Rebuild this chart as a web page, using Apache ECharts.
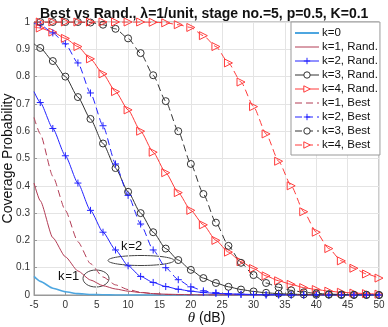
<!DOCTYPE html>
<html>
<head>
<meta charset="utf-8">
<script src="https://cdn.jsdelivr.net/npm/echarts@6/dist/echarts.min.js"></script>
<style>
  html, body { margin: 0; padding: 0; background: #fff; }
  #chart { width: 388px; height: 327px; }
</style>
</head>
<body>
<div id="chart"></div>
<script>
// theta in dB (first point has no marker)
var thetaDb = [-5,-4,-2,0,2,4,6,8,10,12,14,16,18,20,22,24,26,28,30,32,34,36,38,40,42,44,46,48,50];

var k0      = [0.068,0.05,0.025,0.012,0.005,0.002,0.001,0,0,0,0,0,0,0,0,0,0,0,0,0,0,0,0,0,0,0,0,0,0];
var k1Rand  = [0.41,0.345,0.21,0.14,0.088,0.055,0.034,0.022,0.014,0.009,0.005,0.003,0.002,0.001,0,0,0,0,0,0,0,0,0,0,0,0,0,0,0];
var k2Rand  = [0.745,0.705,0.61,0.51,0.41,0.31,0.23,0.165,0.107,0.068,0.046,0.031,0.021,0.014,0.009,0.006,0.004,0.003,0.002,0.001,0.001,0,0,0,0,0,0,0,0];
var k3Rand  = [0.92,0.905,0.857,0.80,0.725,0.645,0.555,0.465,0.378,0.30,0.23,0.17,0.128,0.092,0.062,0.044,0.03,0.02,0.013,0.008,0.005,0.003,0.002,0.001,0.001,0,0,0,0];
var k4Rand  = [0.982,0.978,0.963,0.94,0.91,0.865,0.81,0.745,0.678,0.60,0.523,0.448,0.375,0.31,0.257,0.20,0.157,0.122,0.097,0.07,0.052,0.039,0.027,0.02,0.014,0.01,0.007,0.005,0.003];
var k1Best  = [0.65,0.59,0.435,0.31,0.195,0.115,0.066,0.037,0.02,0.01,0.005,0.002,0.001,0,0,0,0,0,0,0,0,0,0,0,0,0,0,0,0];
var k2Best  = [0.995,0.99,0.96,0.92,0.85,0.74,0.62,0.48,0.365,0.26,0.165,0.10,0.056,0.03,0.015,0.008,0.004,0.002,0.001,0,0,0,0,0,0,0,0,0,0];
var k3Best  = [1,1,1,1,1,0.998,0.99,0.975,0.94,0.886,0.805,0.71,0.60,0.48,0.37,0.265,0.18,0.118,0.073,0.044,0.028,0.017,0.01,0.006,0.003,0.002,0.001,0.001,0];
var k4Best  = [1,1,1,1,1,1,1,1,1,1,0.999,0.997,0.99,0.98,0.95,0.91,0.85,0.78,0.69,0.59,0.49,0.40,0.305,0.23,0.17,0.125,0.098,0.077,0.062];

var plusSym = 'path://M5,0L5,10M0,5L10,5';
var triSym  = 'path://M0,0L9,5L0,10Z';

function pts(vals) {
    return thetaDb.map(function (x, i) {
        if (i === 0) return { value: [x, vals[i]], symbol: 'none' };
        return [x, vals[i]];
    });
}

function mk(name, vals, color, dashed, symbol, size, width) {
    var hasSym = !!symbol;
    return {
        name: name,
        type: 'line',
        data: pts(vals),
        symbol: symbol || 'circle',
        symbolSize: size || 6,
        showSymbol: hasSym,
        smooth: 0.2,
        smoothMonotone: 'x',
        lineStyle: { color: color, width: width || 1, type: dashed ? [7, 4] : 'solid' },
        itemStyle: { color: 'rgba(255,255,255,0)', borderColor: hasSym ? color : 'rgba(255,255,255,0)', borderWidth: 1 },
        emphasis: { disabled: true }
    };
}

// legend entry: hollow marker like the plot
function leg(name, color, hasSym, lineW) {
    return {
        name: name,
        lineStyle: { width: lineW || 1 },
        itemStyle: { color: hasSym ? '#fff' : 'rgba(255,255,255,0)', borderColor: hasSym ? color : 'rgba(255,255,255,0)', borderWidth: 1 }
    };
}

var cK0 = '#4DA6E0', cK1 = '#B23C55', cK2 = '#2222FF', cK3 = '#333333', cK4 = '#FF3B3B';

var chart = echarts.init(document.getElementById('chart'));
chart.setOption({
    animation: false,
    title: {
        text: 'Best vs Rand., λ=1/unit, stage no.=5, p=0.5, K=0.1',
        left: 35, top: 2,
        textStyle: { fontSize: 14, fontWeight: 'bold', color: '#111', fontFamily: 'Liberation Sans, Arial' }
    },
    grid: { left: 34, top: 22, width: 345, height: 273, containLabel: false, outerBoundsMode: 'none',
        show: true, borderColor: '#999', borderWidth: 1 },
    legend: {
        orient: 'vertical', left: 291, top: 22,
        backgroundColor: '#fff', borderColor: '#999', borderWidth: 1,
        padding: [4, 2, 3, 3],
        itemWidth: 24, itemHeight: 8, itemGap: 0,
        textStyle: { fontSize: 11.5, lineHeight: 14, color: '#111', fontFamily: 'Liberation Sans, Arial', padding: [0, 0, 0, -2] },
        data: [
            leg('k=0', cK0, false, 2),
            leg('k=1, Rand.', cK1, false),
            leg('k=2, Rand.', cK2, true),
            leg('k=3, Rand.', cK3, true),
            leg('k=4, Rand.', cK4, true),
            leg('k=1, Best', cK1, false),
            leg('k=2, Best', cK2, true),
            leg('k=3, Best', cK3, true),
            leg('k=4, Best', cK4, true)
        ]
    },
    xAxis: {
        type: 'value', min: -5, max: 50, interval: 5,
        name: '{i|θ} (dB)', nameLocation: 'middle', nameGap: 16, nameMoveOverlap: false,
        nameTextStyle: { fontSize: 14, color: '#111', fontFamily: 'Liberation Sans, Arial',
            rich: { i: { fontStyle: 'italic', fontSize: 15, fontFamily: 'Liberation Serif, serif', color: '#111' } } },
        axisLine: { show: true, onZero: false, lineStyle: { color: '#999' } },
        axisTick: { inside: true, length: 3, lineStyle: { color: '#999' } },
        axisLabel: { fontSize: 10, color: '#333', margin: 5 },
        splitLine: { show: true, lineStyle: { color: '#e4e4e4' } }
    },
    yAxis: {
        type: 'value', min: 0, max: 1, interval: 0.1,
        name: 'Coverage Probability', nameLocation: 'middle', nameGap: 19, nameMoveOverlap: false,
        nameTextStyle: { fontSize: 14, color: '#111', fontFamily: 'Liberation Sans, Arial' },
        axisLine: { show: true, onZero: false, lineStyle: { color: '#999' } },
        axisTick: { show: true, inside: true, length: 3, lineStyle: { color: '#999' } },
        axisLabel: { fontSize: 10, color: '#333', margin: 4,
            formatter: function (v) { return String(Math.round(v * 10) / 10); } },
        splitLine: { show: true, lineStyle: { color: '#e4e4e4' } }
    },
    graphic: [
        { type: 'text', left: 58, top: 270, style: { text: 'k=1', fontSize: 13, fill: '#111', fontFamily: 'Liberation Sans, Arial' } },
        { type: 'ellipse', shape: { cx: 96, cy: 278.5, rx: 13, ry: 8.5 }, style: { fill: 'none', stroke: '#444', lineWidth: 1 } },
        { type: 'text', left: 121, top: 240, style: { text: 'k=2', fontSize: 13, fill: '#111', fontFamily: 'Liberation Sans, Arial' } },
        { type: 'ellipse', shape: { cx: 141, cy: 260.5, rx: 33, ry: 5 }, style: { fill: 'none', stroke: '#444', lineWidth: 1 } }
    ],
    series: [
        mk('k=0', k0, cK0, false, null, 0, 1.6),
        mk('k=1, Rand.', k1Rand, cK1, false, null),
        mk('k=2, Rand.', k2Rand, cK2, false, plusSym, 7),
        mk('k=3, Rand.', k3Rand, cK3, false, 'circle', 7),
        mk('k=4, Rand.', k4Rand, cK4, false, triSym, 8),
        mk('k=1, Best', k1Best, cK1, true, null),
        mk('k=2, Best', k2Best, cK2, true, plusSym, 7),
        mk('k=3, Best', k3Best, cK3, true, 'circle', 7),
        mk('k=4, Best', k4Best, cK4, true, triSym, 8)
    ]
});
</script>
</body>
</html>
